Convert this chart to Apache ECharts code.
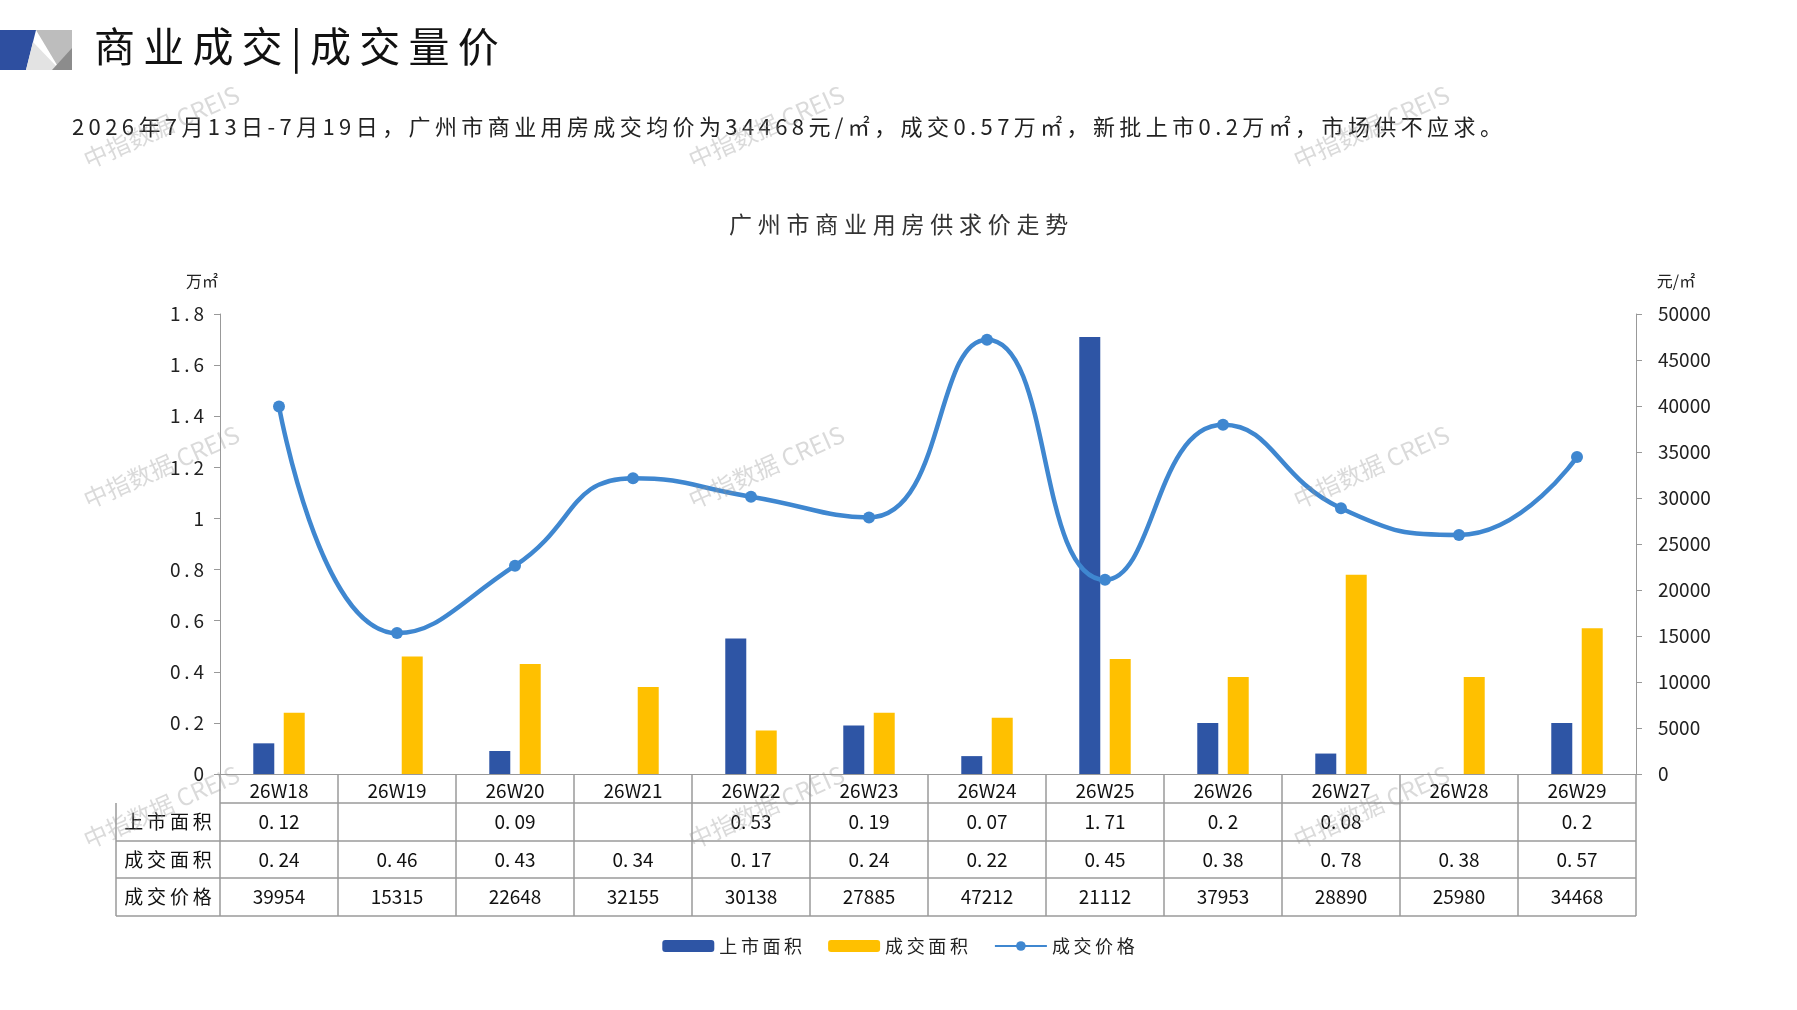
<!DOCTYPE html>
<html><head><meta charset="utf-8">
<script src="https://cdn.jsdelivr.net/npm/echarts@6/dist/echarts.min.js"></script>
<style>html,body{margin:0;padding:0;background:#fff}#c{width:1797px;height:1010px}</style>
</head><body><div id="c"></div>
<script>
const weeks = ['26W18','26W19','26W20','26W21','26W22','26W23','26W24','26W25','26W26','26W27','26W28','26W29'];
const supply = [0.12, null, 0.09, null, 0.53, 0.19, 0.07, 1.71, 0.2, 0.08, null, 0.2];
const deals = [0.24, 0.46, 0.43, 0.34, 0.17, 0.24, 0.22, 0.45, 0.38, 0.78, 0.38, 0.57];
const prices = [39954, 15315, 22648, 32155, 30138, 27885, 47212, 21112, 37953, 28890, 25980, 34468];
const rowNames = ['上市面积', '成交面积', '成交价格'];

const FONT = '"Noto Sans CJK SC", sans-serif';
const BLUE = '#2E55A5', GOLD = '#FFC000', LINE = '#3F87D0';
const L = 220, R = 1636, TOP = 314, BOT = 774;
const rowY = [774, 803, 841, 878, 916];

// CJK characters in the reference are set with extra tracking
const spaced = (s, sp) => s.split('').join(sp || '\u2009');

const chart = echarts.init(document.getElementById('c'), null, { renderer: 'canvas' });

function axisText() {
  return { color: '#222', fontSize: 19, fontFamily: FONT };
}

chart.setOption({
  animation: false,
  textStyle: { fontFamily: FONT },
  title: {
    text: spaced('广州市商业用房供求价走势', '\u2005'), left: 'center', top: 208,
    textStyle: { fontSize: 23, fontWeight: 'normal', color: '#333', fontFamily: FONT },
  },
  legend: {
    bottom: 50, left: 'center', itemWidth: 52, itemHeight: 12, itemGap: 26,
    textStyle: { fontSize: 18, color: '#222', fontFamily: FONT },
    data: ['上市面积', '成交面积', '成交价格'],
    formatter: (n) => spaced(n),
  },
  grid: { left: L, right: 1797 - R, top: TOP, bottom: 1010 - BOT },
  xAxis: {
    type: 'category', data: weeks,
    axisLine: { lineStyle: { color: '#999' } }, axisTick: { show: false }, axisLabel: { show: false },
  },
  yAxis: [
    {
      type: 'value', min: 0, max: 1.8, interval: 0.2, name: '万㎡',
      nameTextStyle: { ...axisText(), fontSize: 16, padding: [0, 36, 10, 0] },
      axisLine: { show: true, lineStyle: { color: '#999' } },
      axisTick: { show: true, length: 6, lineStyle: { color: '#999' } },
      axisLabel: { ...axisText(), margin: 16, formatter: (v) => spaced(String(+v.toFixed(1))) },
      splitLine: { show: false },
    },
    {
      type: 'value', min: 0, max: 50000, interval: 5000, name: '元/㎡',
      nameTextStyle: { ...axisText(), fontSize: 16, padding: [0, 0, 10, 80] },
      axisLine: { show: true, lineStyle: { color: '#999' } },
      axisTick: { show: true, length: 6, lineStyle: { color: '#999' } },
      axisLabel: { ...axisText(), margin: 22, formatter: (v) => String(v) }, splitLine: { show: false },
    },
  ],
  series: [
    { name: '上市面积', type: 'bar', data: supply, barWidth: 21, barGap: '45%', itemStyle: { color: BLUE } },
    { name: '成交面积', type: 'bar', data: deals, barWidth: 21, itemStyle: { color: GOLD } },
    {
      name: '成交价格', type: 'line', yAxisIndex: 1, data: prices, smooth: true,
      symbol: 'circle', symbolSize: 12, lineStyle: { width: 4.5, color: LINE }, itemStyle: { color: LINE },
    },
  ],
});

// header, note, watermarks and data table
const g = [];
g.push({ type: 'polygon', shape: { points: [[0, 30], [36, 30], [26, 70], [0, 70]] }, style: { fill: '#2E4FA0' } });
g.push({ type: 'polygon', shape: { points: [[36, 30], [72, 30], [72, 70], [60, 70]] }, style: { fill: '#BDBDBD' } });
g.push({ type: 'polygon', shape: { points: [[26, 70], [33, 42], [60, 70]] }, style: { fill: '#E3E3E3' } });
g.push({ type: 'polygon', shape: { points: [[52, 70], [72, 48], [72, 70]] }, style: { fill: '#8C8C8C' } });
g.push({ type: 'text', left: 94, top: 26, style: { text: spaced('商业成交|成交量价', '\u2009'), fontSize: 41, fill: '#111', fontFamily: FONT } });
g.push({ type: 'text', left: 72, top: 116, style: { text: spaced('2026年7月13日-7月19日，广州市商业用房成交均价为34468元/㎡，成交0.57万㎡，新批上市0.2万㎡，市场供不应求。', '\u2009'), fontSize: 22, fill: '#222', fontFamily: FONT } });
[[80, 150], [685, 150], [1290, 150], [80, 490], [685, 490], [1290, 490], [80, 830], [685, 830], [1290, 830]].forEach(([x, y]) => {
  g.push({ type: 'text', x, y, rotation: Math.PI / 7.5, z: 100, style: { text: '中指数据 CREIS', fontSize: 24, fill: 'rgba(150,150,150,0.35)', fontFamily: FONT } });
});
const cw = (R - L) / weeks.length;
const lineC = '#9a9a9a';
const hline = (x1, x2, y) => g.push({ type: 'line', shape: { x1, y1: y, x2, y2: y }, style: { stroke: lineC, lineWidth: 1.5 } });
const vline = (x, y1, y2) => g.push({ type: 'line', shape: { x1: x, y1, x2: x, y2 }, style: { stroke: lineC, lineWidth: 1.5 } });
hline(L, R, rowY[1]);
for (let r = 2; r < rowY.length; r++) hline(116, R, rowY[r]);
vline(116, rowY[1], rowY[4]);
for (let i = 0; i <= weeks.length; i++) vline(L + i * cw, rowY[0], rowY[4]);
const cell = (text, x, y) => g.push({ type: 'text', x, y, style: { text, fontSize: 19, fill: '#111', align: 'center', verticalAlign: 'middle', fontFamily: FONT } });
rowNames.forEach((n, r) => cell(spaced(n), (116 + L) / 2, (rowY[r + 1] + rowY[r + 2]) / 2));
weeks.forEach((w, i) => {
  const x = chart.convertToPixel({ xAxisIndex: 0 }, i);
  cell(w, x, (rowY[0] + rowY[1]) / 2 + 2);
  const vals = [supply[i] == null ? '' : supply[i].toFixed(2).replace(/0$/, '').replace('.', '. '), deals[i].toFixed(2).replace('.', '. '), String(prices[i])];
  vals.forEach((v, r) => cell(v, x, (rowY[r + 1] + rowY[r + 2]) / 2));
});
chart.setOption({ graphic: g });
</script></body></html>
